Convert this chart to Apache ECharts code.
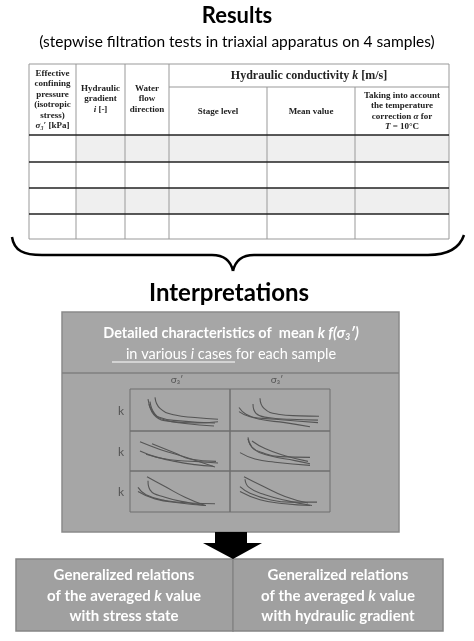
<!DOCTYPE html>
<html>
<head>
<meta charset="utf-8">
<script src="https://cdn.jsdelivr.net/npm/echarts@6/dist/echarts.min.js"></script>
<style>html,body{margin:0;padding:0;background:#fff}#main{width:474px;height:641px}</style>
</head>
<body>
<div id="main"></div>
<script>
// table header texts
var col1Head = ['Effective', 'confining', 'pressure', '(isotropic', 'stress)', '{i|σ₃′} [kPa]'];
var col2Head = ['Hydraulic', 'gradient', '{i|i} [-]'];
var col3Head = ['Water', 'flow', 'direction'];
var kHead = 'Hydraulic conductivity {ib|k} [m/s]';
var subHeads = ['Stage level', 'Mean value'];
var col6Head = ['Taking into account', 'the temperature', 'correction {i|α} for', '{i|T} = 10°C'];
var bottomLeft = ['Generalized relations', 'of the averaged {i|k} value', 'with stress state'];
var bottomRight = ['Generalized relations', 'of the averaged {i|k} value', 'with hydraulic gradient'];

// sketch curves in each mini panel (x 0-10, y 0-10)
var panel1 = [
  [[1.8,7.6],[2.2,4.8],[3.0,3.2],[5.0,2.4],[8.5,1.9]],
  [[2.0,7.0],[2.5,4.0],[3.5,2.6],[5.5,1.8],[8.4,1.2]],
  [[1.9,6.4],[2.6,3.4],[4.0,2.3],[6.5,1.9],[8.8,2.2]],
  [[2.5,8.0],[3.0,5.4],[4.5,3.8],[6.5,3.2],[8.8,2.8]]
];
var panel2 = [
  [[0.9,5.6],[1.6,4.0],[3.0,2.8],[5.5,2.0],[8.0,1.0]],
  [[2.3,6.4],[2.6,4.2],[3.8,3.2],[6.0,2.8],[8.8,2.6]],
  [[3.0,7.8],[3.4,5.4],[4.8,4.0],[7.0,3.6],[8.9,3.5]],
  [[0.9,4.6],[2.0,3.4],[4.5,2.8],[8.8,2.0]]
];
var panel3 = [
  [[1.0,5.0],[2.5,3.6],[4.5,2.4],[6.5,1.6],[8.3,1.2]],
  [[1.0,7.3],[3.0,5.4],[5.5,3.5],[8.5,1.0]],
  [[2.2,6.8],[4.5,4.5],[6.0,3.0],[8.6,2.4]],
  [[1.6,4.2],[4.0,2.8],[6.5,2.4],[8.8,2.0]]
];
var panel4 = [
  [[1.8,8.4],[2.2,6.0],[3.2,4.6],[5.0,3.6],[8.0,3.4]],
  [[1.8,8.0],[2.4,5.4],[4.0,3.8],[6.5,2.6],[8.0,1.8]],
  [[2.2,7.5],[3.5,5.6],[5.5,3.8],[7.8,2.4]],
  [[1.0,4.6],[2.5,3.0],[4.5,2.2],[8.0,1.4]]
];
var panel5 = [
  [[0.8,6.0],[1.6,4.2],[3.5,2.8],[6.0,2.2],[8.5,2.0]],
  [[1.8,7.6],[2.0,5.4],[3.5,3.6],[6.0,2.2],[7.6,1.6]],
  [[1.7,8.6],[3.5,6.2],[5.5,3.6],[7.5,1.6]],
  [[0.8,5.0],[2.5,3.2],[5.0,2.2],[7.6,1.6]]
];
var panel6 = [
  [[1.0,6.2],[2.0,4.6],[4.0,3.0],[6.0,2.4],[8.7,2.4]],
  [[1.5,8.0],[1.9,6.0],[3.5,4.2],[6.0,2.6],[8.2,1.6]],
  [[1.4,8.6],[3.2,6.4],[5.5,3.8],[7.8,2.2]],
  [[1.0,5.0],[3.0,3.0],[5.5,2.0],[8.0,1.6]]
];
var panels = [panel1, panel2, panel3, panel4, panel5, panel6];
var rowLabels = ['k', 'k', 'k'];
var colLabels = ['σ₃′', 'σ₃′'];

var myChart = echarts.init(document.getElementById('main'));

var sans = 'Lato';
var serif = 'Liberation Serif';
var g = [];

function txt(x, y, text, size, opts) {
  opts = opts || {};
  g.push({
    type: 'text', x: x, y: y, z: opts.z || 20,
    style: {
      text: text, fontSize: size, fontFamily: opts.font || sans,
      fontWeight: opts.weight || 'normal', fill: opts.color || '#000',
      align: 'center', verticalAlign: 'middle', lineHeight: opts.lh || size * 1.2,
      rich: opts.rich || {}
    }
  });
}
function line(x1, y1, x2, y2, color, w, z) {
  g.push({ type: 'line', z: z || 5, shape: {x1: x1, y1: y1, x2: x2, y2: y2},
    style: {stroke: color, lineWidth: w} });
}
function rect(x, y, w, h, fill, stroke, z, lw) {
  g.push({ type: 'rect', z: z || 1, shape: {x: x, y: y, width: w, height: h},
    style: {fill: fill, stroke: stroke || null, lineWidth: lw || 1} });
}
function bez(x1, y1, cx1, cy1, cx2, cy2, x2, y2) {
  g.push({ type: 'bezierCurve', z: 5,
    shape: {x1: x1, y1: y1, cpx1: cx1, cpy1: cy1, cpx2: cx2, cpy2: cy2, x2: x2, y2: y2},
    style: {fill: null, stroke: '#000', lineWidth: 2.5} });
}

// titles
txt(237, 16, 'Results', 22, {weight: 'bold'});
txt(237, 42, '(stepwise filtration tests in triaxial apparatus on 4 samples)', 15.5);

// table
var cx = [29, 76, 125, 169, 267, 355, 449];
var ry = [135, 162, 188, 214, 239];
rect(76, 135, 373, 27, '#efefef', null, 1);
rect(76, 188, 373, 26, '#efefef', null, 1);
line(29, 64, 449, 64, '#999', 1);
line(169, 87, 449, 87, '#999', 1);
line(29, 239, 449, 239, '#999', 1);
for (var i = 0; i < 4; i++) line(29, ry[i], 449, ry[i], '#222', 1.5, 6);
for (var i = 0; i < cx.length; i++) {
  line(cx[i], i >= 4 && i <= 5 ? 87 : 64, cx[i], 239, '#999', 1);
}
var sRich = {i: {fontStyle: 'italic', fontFamily: serif, fontWeight: 'bold', fontSize: 9},
             ib: {fontStyle: 'italic', fontFamily: serif, fontWeight: 'bold', fontSize: 12}};
var hs = {font: serif, weight: 'bold', rich: sRich, lh: 10.5, color: '#222'};
txt(52.5, 99.5, col1Head.join('\n'), 9, hs);
txt(100.5, 99, col2Head.join('\n'), 9, hs);
txt(147, 99, col3Head.join('\n'), 9, hs);
txt(309, 76, kHead, 12, {font: serif, weight: 'bold', rich: sRich, color: '#222'});
txt(218, 112, subHeads[0], 9, hs);
txt(311, 112, subHeads[1], 9, hs);
txt(402, 111, col6Head.join('\n'), 9, hs);

// brace
bez(12, 237, 14, 251, 24, 255, 42, 255);
line(42, 255, 212, 255, '#000', 2.5);
bez(212, 255, 226, 255, 231, 262, 233, 271);
bez(233, 271, 235, 262, 240, 255, 254, 255);
line(254, 255, 428, 255, '#000', 2.5);
bez(428, 255, 446, 255, 459, 250, 464, 235);

txt(229, 293, 'Interpretations', 24, {weight: 'bold'});

// interpretation box
rect(62, 312, 337, 220, '#a6a6a6', '#8a8a8a', 1, 1.5);
line(62, 373, 399, 373, '#7f7f7f', 1.5);
txt(231, 333, 'Detailed characteristics of  mean {bi|k f(σ}{bs|3}{bi|′)}', 14.5,
  {weight: 'bold', color: '#fff', rich: {
    bi: {fontStyle: 'italic', fontWeight: 'bold', fontSize: 14.5, fontFamily: sans, fill: '#fff'},
    bs: {fontStyle: 'italic', fontWeight: 'bold', fontSize: 9, fontFamily: sans, fill: '#fff', verticalAlign: 'bottom'}
  }});
txt(231, 354, '{u|in various }{ui|i}{u| cases }for each sample', 14.5,
  {color: '#fff', rich: {
    u: {fontSize: 14.5, fontFamily: sans, fill: '#fff'},
    ui: {fontSize: 14.5, fontFamily: sans, fill: '#fff', fontStyle: 'italic'}
  }});
line(112, 362, 235, 362, '#fff', 1.2);

var gx = [130, 230, 330];
var gy = [389, 431, 471, 512];
for (var r = 0; r < 3; r++) {
  for (var c = 0; c < 2; c++) {
    rect(gx[c], gy[r], 100, gy[r + 1] - gy[r], null, '#6e6e6e', 10, 1);
  }
  txt(121, (gy[r] + gy[r + 1]) / 2 + 1, rowLabels[r], 12, {color: '#555'});
}
txt(177, 380, colLabels[0], 10, {color: '#555'});
txt(277, 380, colLabels[1], 10, {color: '#555'});

// arrow
g.push({ type: 'polygon', z: 5,
  shape: {points: [[215, 532], [247, 532], [247, 543], [262, 543], [233, 559], [203, 543], [215, 543]]},
  style: {fill: '#000'} });

// bottom boxes
rect(16, 559, 217, 72, '#a0a0a0', '#858585', 1, 1.5);
rect(233, 559, 210, 72, '#a0a0a0', '#858585', 1, 1.5);
var bRich = {i: {fontStyle: 'italic', fontWeight: 'bold', fontSize: 15, fontFamily: sans, fill: '#fff'}};
txt(124, 596, bottomLeft.join('\n'), 15, {weight: 'bold', color: '#fff', rich: bRich, lh: 20.5});
txt(338, 596, bottomRight.join('\n'), 15, {weight: 'bold', color: '#fff', rich: bRich, lh: 20.5});

// mini panels drawn as real line series
var grids = [], xAxes = [], yAxes = [], series = [];
panels.forEach(function (p, idx) {
  var r = Math.floor(idx / 2), c = idx % 2;
  grids.push({left: gx[c], top: gy[r], width: 100, height: gy[r + 1] - gy[r], show: false, containLabel: false});
  xAxes.push({type: 'value', gridIndex: idx, min: 0, max: 10, show: false});
  yAxes.push({type: 'value', gridIndex: idx, min: 0, max: 10, show: false});
  p.forEach(function (curve) {
    series.push({type: 'line', xAxisIndex: idx, yAxisIndex: idx, data: curve, smooth: 0.5,
      showSymbol: false, silent: true, z: 12, lineStyle: {color: '#555', width: 1.1}});
  });
});

myChart.setOption({
  animation: false,
  grid: grids, xAxis: xAxes, yAxis: yAxes, series: series,
  graphic: {elements: g}
});
</script>
</body>
</html>
